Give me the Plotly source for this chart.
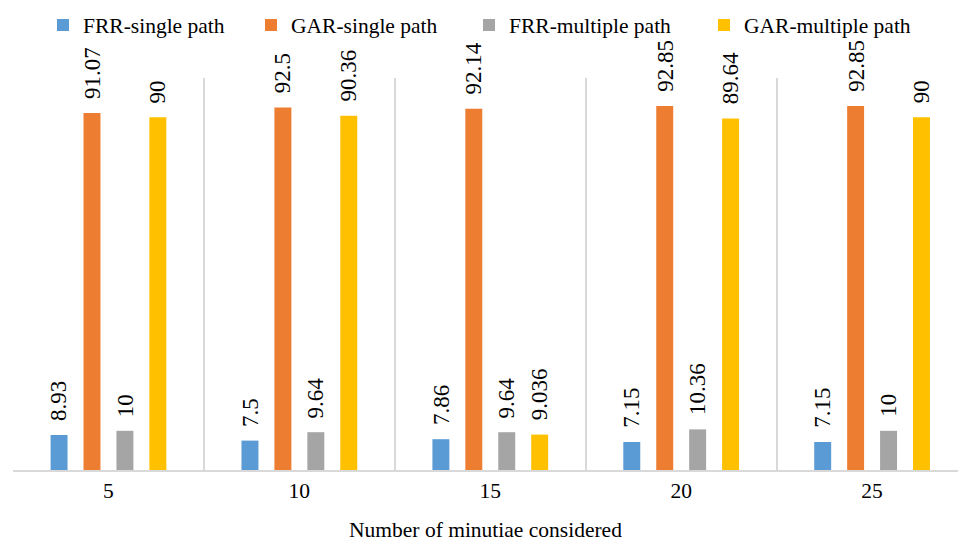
import plotly.graph_objects as go

# Number of minutiae considered (x categories)
categories = ["5", "10", "15", "20", "25"]

# Rates (%) for each method
frr_single = [8.93, 7.5, 7.86, 7.15, 7.15]
gar_single = [91.07, 92.5, 92.14, 92.85, 92.85]
frr_multiple = [10, 9.64, 9.64, 10.36, 10]
gar_multiple = [90, 90.36, 9.036, 89.64, 90]

series_names = ["FRR-single path", "GAR-single path", "FRR-multiple path", "GAR-multiple path"]
series_values = [frr_single, gar_single, frr_multiple, gar_multiple]
series_colors = ["#5B9BD5", "#ED7D31", "#A5A5A5", "#FFC000"]

SERIF = "Times New Roman"

W, H = 958, 542
M_L, M_R, M_T, M_B = 12.5, 0, 78, 71.5
X_RANGE = [-0.5, 4.45]
BARGAP = 0.31
BARGROUPGAP = 0.485

# pixel width of one category slot, used to place each series' label over its bar
cat_px = (W - M_L - M_R) / (X_RANGE[1] - X_RANGE[0])
slot_px = cat_px * (1 - BARGAP) / len(series_names)

# left edge (px) of each legend entry
legend_x = [43, 251, 469, 704]
legend_ids = ["legend", "legend2", "legend3", "legend4"]

fig = go.Figure()
annotations = []
for i, (name, vals, color) in enumerate(zip(series_names, series_values, series_colors)):
    fig.add_trace(go.Bar(
        x=categories,
        y=vals,
        name=name,
        legend=legend_ids[i],
        marker=dict(color=color, line=dict(width=0)),
    ))
    shift = (i - (len(series_names) - 1) / 2) * slot_px
    for j, v in enumerate(vals):
        annotations.append(dict(
            x=j, y=v, xref="x", yref="y",
            text=f"{v:g}",
            showarrow=False,
            textangle=-90,
            xanchor="center", yanchor="bottom",
            xshift=shift, yshift=12,
            font=dict(family=SERIF, size=23, color="#000000"),
        ))

legend_style = dict(
    orientation="h",
    xref="container", xanchor="left",
    yref="container", y=1 - 25 / H, yanchor="middle",
    font=dict(family=SERIF, size=21.5, color="#000000"),
    itemclick=False,
    bgcolor="rgba(0,0,0,0)",
)
legends = {lid: dict(legend_style, x=lx / W) for lid, lx in zip(legend_ids, legend_x)}

fig.update_layout(
    width=W,
    height=H,
    margin=dict(l=M_L, r=M_R, t=M_T, b=M_B, autoexpand=False),
    paper_bgcolor="#FFFFFF",
    plot_bgcolor="#FFFFFF",
    barmode="group",
    bargap=BARGAP,
    bargroupgap=BARGROUPGAP,
    font=dict(family=SERIF, size=21, color="#000000"),
    showlegend=True,
    annotations=annotations,
    xaxis=dict(
        type="category",
        range=X_RANGE,
        tickson="boundaries",
        showgrid=True,
        gridcolor="#D9D9D9",
        gridwidth=1.5,
        showline=True,
        linecolor="#D9D9D9",
        linewidth=1.5,
        ticks="",
        tickfont=dict(family=SERIF, size=21.5, color="#000000"),
        title=dict(text="Number of minutiae considered",
                   font=dict(family=SERIF, size=21.5, color="#000000"),
                   standoff=32),
        fixedrange=True,
    ),
    yaxis=dict(
        range=[0, 100],
        visible=False,
        showgrid=False,
        zeroline=False,
        fixedrange=True,
    ),
    **legends,
)

fig.write_html("out.html")
